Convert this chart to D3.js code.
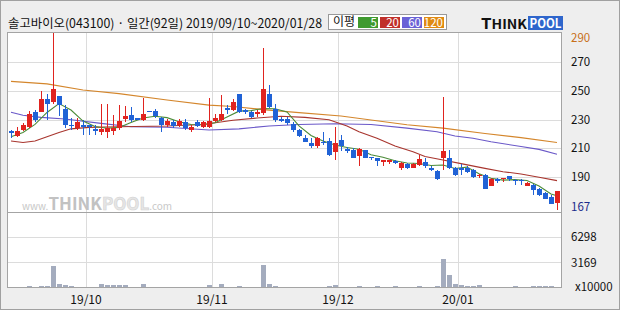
<!DOCTYPE html>
<html>
<head>
<meta charset="utf-8">
<script src="https://cdn.jsdelivr.net/npm/d3@7"></script>
<style>
  body { margin: 0; background: #fff; }
  svg { display: block; }
  text { font-family: "Noto Sans CJK KR", "DejaVu Sans", sans-serif; }
</style>
</head>
<body>
<svg id="chart" width="620" height="310"></svg>
<script>
// daily candles, 2019/09/10 ~ 2020/01/28 (92 trading days)
const opens = [222,218.5,223,225,235,235.5,244.5,242,246.5,237,226.5,224,226,226,223.5,221.5,221,222,224,230.5,
  233,231,230,236,236,231,226,228.5,226,228,223,228.5,225,224.5,229,230,238,236.5,247.5,236.5,
  235.5,233.5,234.5,247.5,237,230.5,230.5,227,223,217,214,211.5,214.5,215,207.5,215.5,209.5,208.5,204.5,208.5,
  204,203,201,201,201,196,199,196.5,198.5,200.5,196.5,194.5,203,203,196.5,196.5,196.5,195,190.5,191.5,
  183.5,188.5,188.5,190.5,188,188,184,184.5,182,179,176,172];
const closes = [221,222,226,234,230,244,240.5,251,240,226,225.5,228,225,225,222,223.5,224,224,229,232.5,
  230,230,234,235,232.5,226,229,225.5,229,224,225,225.5,228,229,231,234,236.5,242.5,235,235,
  232,235.5,251,239,230,229,227.5,222.5,218.5,214.5,211.5,217,213.5,205.5,214,211.5,208,203.5,209.5,203.5,
  203,201,201.5,201.5,199.5,200,196,199,202.5,197.5,195,188.5,208,196.5,191.5,195,193.5,190,191.5,182,
  188.5,187.5,189.5,188.5,187,187,186,181,177.5,175,171.5,180];
const highs = [222.5,225,227.5,236,236.5,249.5,248,290,246.5,240,231,231,230,226.5,226,241,241,233,240,239.5,
  239,231,245,236,237,231.5,230.5,230,230.5,230.5,226,229.5,229,245,234,247,240,244,247.5,237.5,
  236,236.5,279.5,254,241,231.5,231.5,228.5,223.5,219.5,217,218,221,217,224.5,219,211,210,210,208.5,
  204,203.5,201.5,202,201.5,200.5,199.5,199.5,205.5,203,197.5,195,245.5,209,197,199,197.5,195.5,192,192,
  189,189,189.5,191,188.5,188.5,186.5,185,182.5,179.5,177.5,180];
const lows = [217,217.5,222,224,228.5,235,230,241,232.5,224,223,223,219,219,219,219,217,219,222.5,228.5,
  228.5,229.5,229,235,231,221,225,224,225,223,221.5,225,224,224,228,229,234,236,234.5,234,
  231,231.5,233,238,228.5,228.5,226.5,221.5,217.5,214.5,210,210.5,212.5,204.5,202,208,207,203,197.5,203,
  202,197.5,197.5,199,199,195,195.5,196,197.5,196,194.5,188,195,195.5,190.5,191.5,193,189,189,181.5,
  183.5,185.5,186.5,187.5,184.5,184.5,184,177.5,177,174.5,171,167];
// volume, x10000 shares
const volumes = [130,130,130,260,130,260,260,2770,480,400,260,130,130,130,130,530,400,400,400,400,
  130,130,530,130,130,130,130,130,130,130,130,130,130,400,130,530,130,130,260,130,
  130,130,2900,530,260,130,130,130,130,130,130,130,130,260,400,130,130,130,260,130,
  130,260,130,130,260,130,130,130,260,130,130,260,3560,1580,530,400,260,260,400,130,
  130,130,130,130,260,130,130,260,260,260,260,130];

// moving averages: [day index, value]
const ma5 = [[0,218],[2,221],[4,226.6],[6,234.9],[8,241.1],[10,236.6],[12,228.9],[14,225.1],[16,223.9],[18,224.5],
  [20,227.9],[22,231.1],[24,232.3],[26,231.3],[28,228.4],[30,226.5],[32,226.3],[34,227.7],[36,231.7],[38,235.8],
  [40,236.2],[42,237.7],[44,237.5],[46,235.3],[48,225.5],[50,218.9],[52,215],[54,212.3],[56,210.5],[58,209.3],
  [60,205.5],[62,203.7],[64,201.3],[66,199.7],[68,199.4],[70,198],[72,198.3],[74,195.9],[76,196.9],[78,192.3],
  [80,189.1],[82,187.8],[84,188.2],[86,187.6],[88,183.7],[90,178.2],[91,177]];
const ma20 = [[0,215],[2,214],[4,215],[6,218],[8,221],[10,223.5],[13,224.5],[18,225],[26,225.5],[32,226.5],
  [37,229.5],[41,231],[45,232.3],[49,231.5],[53,229.8],[56,225.5],[58,221.5],[61,217],[64,211.5],[67,207.5],
  [69,204.2],[72,201.8],[75,199.3],[79,196],[82,193.7],[85,192.1],[88,189.8],[91,187.5]];
const ma60 = [[0,235],[2,233],[5,231.5],[9,230.3],[15,227.3],[20,225],[26,224.6],[33,222.7],[38,223.5],[43,225.5],
  [48,226.5],[54,227],[60,226.5],[66,224],[71,221.5],[74,218.5],[77,217],[80,214.5],[85,211.2],[88,209.2],[91,205.8]];
const ma120 = [[0,256.5],[6,254.8],[12,250.5],[18,248],[26,243.6],[33,240],[37,239],[43,236.5],[48,234.8],[55,232.4],
  [60,229.7],[66,226.4],[72,224],[79,220.3],[85,217.4],[91,214]];

const priceTicks = [270, 250, 230, 210, 190];
const volTicks = [6298, 3169];
const monthStarts = [13, 34, 55, 75];
const monthLabels = ["19/10", "19/11", "19/12", "20/01"];
const maNames = ["5", "20", "60", "120"];
const maColors = ["#3f9a2f", "#c0302a", "#6a62d6", "#e08a12"];
const lineColors = ["#4b8b38", "#a8352e", "#6a58c8", "#d4862c"];

const svg = d3.select("#chart");
const pL = 7, pR = 562, pT = 32, pSplit = 212, pB = 288;

// background + frame
svg.append("rect").attr("width", 620).attr("height", 310).attr("fill", "#eeeeee");
svg.append("rect").attr("x", 0.5).attr("y", 0.5).attr("width", 619).attr("height", 309)
  .attr("fill", "none").attr("stroke", "#a0a0a0");
svg.append("rect").attr("x", pL).attr("y", pT).attr("width", pR - pL).attr("height", pB - pT)
  .attr("fill", "#fff");

const x = d3.scaleBand().domain(d3.range(closes.length)).range([8, 560]);
const cx = i => x(i) + x.bandwidth() / 2;
const y = d3.scaleLinear().domain([190, 270]).range([177, 62]);
const yv = d3.scaleLinear().domain([0, 6298]).range([pB, 237.3]);

const grid = svg.append("g").attr("stroke", "#dcdcdc").attr("shape-rendering", "crispEdges");
grid.selectAll(".gp").data(priceTicks).join("line").attr("class", "gp")
  .attr("x1", pL).attr("x2", pR).attr("y1", d => Math.round(y(d)) + 0.5).attr("y2", d => Math.round(y(d)) + 0.5);
grid.selectAll(".gv").data(volTicks).join("line").attr("class", "gv")
  .attr("x1", pL).attr("x2", pR).attr("y1", d => Math.round(yv(d)) + 0.5).attr("y2", d => Math.round(yv(d)) + 0.5);
grid.selectAll(".gx").data(monthStarts).join("line").attr("class", "gx")
  .attr("x1", d => x(d) + 0.5).attr("x2", d => x(d) + 0.5).attr("y1", pT).attr("y2", pB);

// watermark
const wm = svg.append("text").attr("x", 22).attr("y", 210).attr("fill", "#c8c8c8");
wm.append("tspan").attr("font-size", 10).text("www.");
wm.append("tspan").attr("font-size", 17).attr("font-weight", "bold").attr("fill", "#c2c2c2").text("THINK");
wm.append("tspan").attr("font-size", 17).attr("font-weight", "bold").attr("fill", "#e6e6e6")
  .attr("stroke", "#d2d2d2").attr("stroke-width", 0.6).text("POOL");
wm.append("tspan").attr("font-size", 10).text(".com");

// volume bars
svg.append("g").selectAll("rect").data(volumes).join("rect")
  .attr("x", (d, i) => cx(i) - 2).attr("width", 5)
  .attr("y", d => Math.min(yv(d), pB - 1)).attr("height", d => Math.max(1, pB - yv(d)))
  .attr("fill", "#a4acbe").attr("shape-rendering", "crispEdges");

// moving averages
const line = d3.line().x(d => cx(d[0])).y(d => y(d[1]));
[ma120, ma60, ma20, ma5].forEach((m, k) => {
  svg.append("path").datum(m).attr("d", line).attr("fill", "none")
    .attr("stroke", lineColors[3 - k]).attr("stroke-width", 1.1);
});

// candles
const candles = svg.append("g").attr("shape-rendering", "crispEdges");
const col = i => closes[i] >= opens[i] ? "#e0231f" : "#2062d6";
candles.selectAll(".wick").data(closes).join("rect").attr("class", "wick")
  .attr("x", (d, i) => cx(i) - 0.5).attr("width", 1)
  .attr("y", (d, i) => y(highs[i])).attr("height", (d, i) => Math.max(1, y(lows[i]) - y(highs[i])))
  .attr("fill", (d, i) => col(i));
candles.selectAll(".body").data(closes).join("rect").attr("class", "body")
  .attr("x", (d, i) => cx(i) - 2.5).attr("width", 5)
  .attr("y", (d, i) => y(Math.max(opens[i], d)))
  .attr("height", (d, i) => Math.max(1.5, Math.abs(y(opens[i]) - y(d))))
  .attr("fill", (d, i) => col(i));

// panel borders
svg.append("rect").attr("x", pL + 0.5).attr("y", pT + 0.5).attr("width", pR - pL - 1).attr("height", pB - pT - 1)
  .attr("fill", "none").attr("stroke", "#a4a4a4");
svg.append("line").attr("x1", pL).attr("x2", pR).attr("y1", pSplit + 0.5).attr("y2", pSplit + 0.5)
  .attr("stroke", "#a4a4a4");

// right labels
const lab = svg.append("g").attr("font-size", 11.5);
lab.selectAll(".pt").data(priceTicks).join("text").attr("class", "pt")
  .attr("x", 571).attr("y", d => y(d)).attr("dy", "0.35em").attr("fill", "#111").text(d => d);
const maxHigh = d3.max(highs), minLow = d3.min(lows);
lab.append("text").attr("x", 571).attr("y", Math.max(y(maxHigh) + 5, 38)).attr("dy", "0.35em")
  .attr("fill", "#c8701a").text(maxHigh);
lab.append("text").attr("x", 571).attr("y", Math.min(y(minLow), 207)).attr("dy", "0.35em")
  .attr("fill", "#1c2c8c").text(minLow);
lab.selectAll(".vt").data(volTicks).join("text").attr("class", "vt")
  .attr("x", 571).attr("y", d => yv(d)).attr("dy", "0.35em").attr("fill", "#111").text(d => d);
lab.append("text").attr("x", 575).attr("y", 287).attr("dy", "0.35em").attr("fill", "#111").text("x10000");

// month labels
svg.append("g").attr("font-size", 12).selectAll("text").data(monthStarts).join("text")
  .attr("x", d => x(d)).attr("y", 300).attr("dy", "0.35em").attr("text-anchor", "middle")
  .attr("fill", "#111").text((d, i) => monthLabels[i]);

// title
svg.append("text").attr("x", 8).attr("y", 28).attr("font-size", 12.5).attr("fill", "#111")
  .attr("textLength", 314).attr("lengthAdjust", "spacingAndGlyphs")
  .text("솔고바이오(043100) · 일간(92일) 2019/09/10~2020/01/28");

// legend
const lg = svg.append("g");
lg.append("rect").attr("x", 328.5).attr("y", 14.5).attr("width", 118).attr("height", 15)
  .attr("fill", "#fff").attr("stroke", "#999");
lg.append("text").attr("x", 333).attr("y", 26).attr("font-size", 12).attr("fill", "#111").text("이평");
const boxX = [358, 380, 402, 424];
maNames.forEach((n, k) => {
  lg.append("rect").attr("x", boxX[k]).attr("y", 17).attr("width", 20).attr("height", 11).attr("fill", maColors[k]);
  lg.append("text").attr("x", boxX[k] + 19).attr("y", 26.5).attr("font-size", 11.5).attr("text-anchor", "end")
    .attr("fill", "#fff").text(n);
});

// logo
const logo = svg.append("g");
const lt = logo.append("text").attr("x", 481).attr("y", 28.5).attr("font-weight", "bold").attr("fill", "#111")
  .attr("textLength", 46).attr("lengthAdjust", "spacingAndGlyphs");
lt.append("tspan").attr("font-size", 15).text("T");
lt.append("tspan").attr("font-size", 12.5).text("HINK");
logo.append("rect").attr("x", 528).attr("y", 16).attr("width", 35).attr("height", 14).attr("fill", "#2f66cc");
logo.append("text").attr("x", 545.5).attr("y", 28).attr("font-size", 12.5).attr("font-weight", "bold")
  .attr("text-anchor", "middle").attr("fill", "#fff").attr("textLength", 32).attr("lengthAdjust", "spacingAndGlyphs")
  .text("POOL");
</script>
</body>
</html>
